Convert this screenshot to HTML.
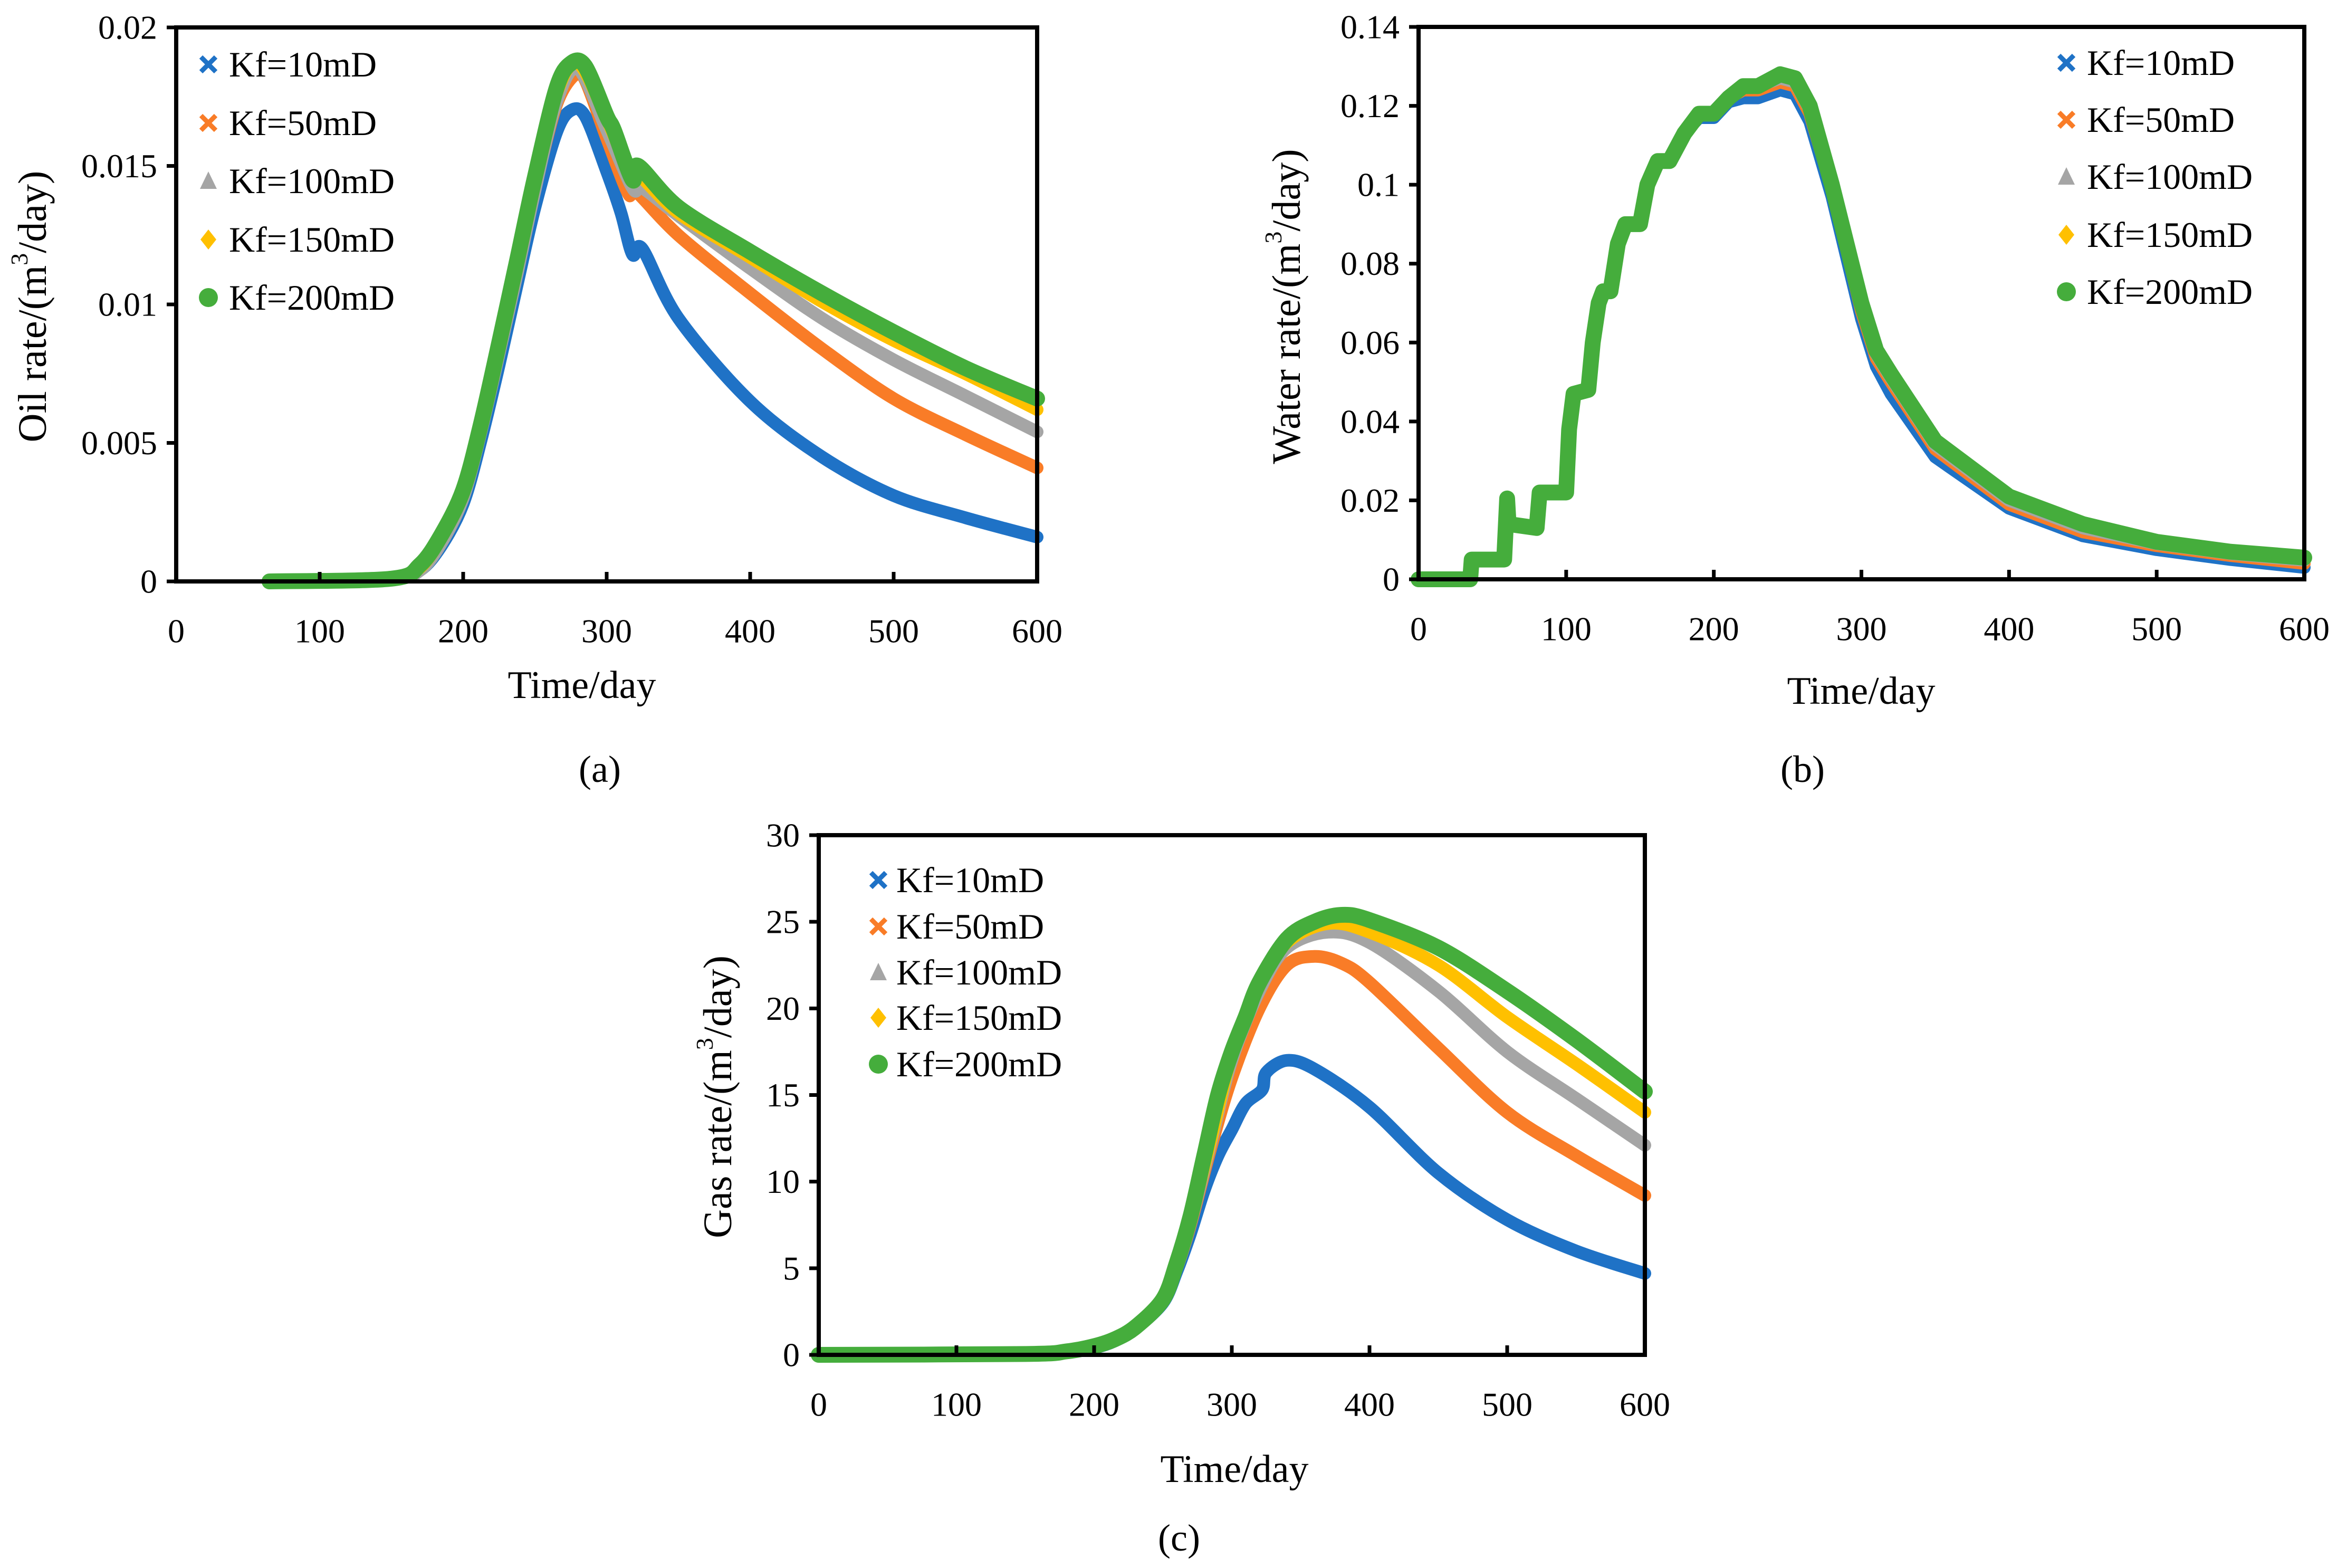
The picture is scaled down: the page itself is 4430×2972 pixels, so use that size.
<!DOCTYPE html>
<html><head><meta charset="utf-8"><style>
html,body{margin:0;padding:0;background:#fff;}
svg{display:block;font-family:"Liberation Serif",serif;}
</style></head><body>
<svg id="fig" width="4430" height="2972" viewBox="0 0 4430 2972" xmlns="http://www.w3.org/2000/svg"></svg>
<script>
// ---- Data ----
const seriesNames = ["Kf=10mD","Kf=50mD","Kf=100mD","Kf=150mD","Kf=200mD"];
const seriesColors = ["#1f72c6","#f97c27","#a5a5a5","#ffc000","#45ad3c"];
const xTicks = [0,100,200,300,400,500,600];

// (a) Oil rate
const oilDays10 = [65,150,170,185,200,212,225,238,250,265,275,285,300,310,318,325,350,400,450,500,550,600];
const oilVals10 = [0,0.0001,0.0004,0.0013,0.0028,0.005,0.0078,0.0108,0.0135,0.0162,0.017,0.0168,0.0148,0.0133,0.0118,0.012,0.0095,0.0065,0.0045,0.0031,0.0023,0.0016];
const oilDays50 = [65,150,170,185,200,212,225,238,250,265,278,285,300,315,320,350,400,450,500,550,600];
const oilVals50 = [0,0.0001,0.0006,0.0017,0.0033,0.0056,0.0085,0.0115,0.0142,0.0172,0.0183,0.0181,0.016,0.014,0.0141,0.0125,0.0104,0.0084,0.0066,0.0053,0.0041];
const oilDays100 = [65,150,170,185,200,212,225,238,250,265,280,300,318,325,350,400,450,500,550,600];
const oilVals100 = [0,0.0001,0.0004,0.0014,0.003,0.0053,0.0082,0.0112,0.0141,0.0173,0.0185,0.0163,0.0142,0.0142,0.0132,0.0113,0.0095,0.008,0.0067,0.0054];
const oilDays150 = [65,150,170,185,200,212,225,238,250,265,280,300,318,322,350,400,450,500,550,600];
const oilVals150 = [0,0.0001,0.0005,0.0016,0.0032,0.0055,0.0084,0.0115,0.0144,0.0176,0.0187,0.0167,0.0145,0.0147,0.0133,0.0117,0.0101,0.0087,0.0075,0.0062];
const oilDays200 = [65,150,170,185,200,212,225,238,250,265,275,285,300,305,318,322,350,400,450,500,550,600];
const oilVals200 = [0,0.0001,0.0006,0.0017,0.0033,0.0056,0.0086,0.0117,0.0146,0.0178,0.0187,0.0186,0.0168,0.0163,0.0145,0.015,0.0135,0.0119,0.0104,0.009,0.0077,0.0066];
const oilYTicks = [0,0.005,0.01,0.015,0.02];
const oilYLabels = ["0","0.005","0.01","0.015","0.02"];

// (b) Water rate
const wDays = [0,35,36,58,60,61,80,82,100,102,105,115,118,122,125,130,135,140,150,155,162,170,180,190,200,210,220,230,245,255,265,280,300,310,320,350,400,450,500,550,600];
const water10  = [0,0,0.005,0.005,0.0205,0.014,0.013,0.022,0.022,0.038,0.047,0.048,0.06,0.07,0.073,0.073,0.085,0.09,0.09,0.1,0.106,0.106,0.113,0.117,0.117,0.121,0.122,0.122,0.124,0.123,0.116,0.097,0.066,0.054,0.047,0.031,0.018,0.011,0.0075,0.005,0.003];
const water50  = [0,0,0.005,0.005,0.0205,0.014,0.013,0.022,0.022,0.038,0.047,0.048,0.06,0.07,0.073,0.073,0.085,0.09,0.09,0.1,0.106,0.106,0.113,0.118,0.118,0.122,0.124,0.124,0.126,0.125,0.118,0.099,0.068,0.056,0.05,0.033,0.019,0.012,0.0085,0.006,0.004];
const water100 = [0,0,0.005,0.005,0.0205,0.014,0.013,0.022,0.022,0.038,0.047,0.048,0.06,0.07,0.073,0.073,0.085,0.09,0.09,0.1,0.106,0.106,0.113,0.118,0.118,0.122,0.125,0.125,0.127,0.126,0.119,0.1,0.069,0.057,0.051,0.034,0.02,0.013,0.009,0.0065,0.0048];
const water150 = [0,0,0.005,0.005,0.0205,0.014,0.013,0.022,0.022,0.038,0.047,0.048,0.06,0.07,0.073,0.073,0.085,0.09,0.09,0.1,0.106,0.106,0.113,0.118,0.118,0.122,0.125,0.125,0.128,0.127,0.12,0.1,0.07,0.058,0.052,0.035,0.021,0.0138,0.0094,0.0068,0.0053];
const water200 = [0,0,0.005,0.005,0.0205,0.014,0.013,0.022,0.022,0.038,0.047,0.048,0.06,0.07,0.073,0.073,0.085,0.09,0.09,0.1,0.106,0.106,0.113,0.118,0.118,0.122,0.125,0.125,0.128,0.127,0.12,0.1,0.07,0.058,0.052,0.035,0.021,0.014,0.0095,0.007,0.0055];
const waterYTicks = [0,0.02,0.04,0.06,0.08,0.1,0.12,0.14];
const waterYLabels = ["0","0.02","0.04","0.06","0.08","0.1","0.12","0.14"];

// (c) Gas rate
const gasDays10 = [0,150,180,200,215,230,250,260,270,280,290,300,310,322,325,340,360,400,450,500,550,600];
const gasVals10 = [0,0,0.15,0.4,0.8,1.5,3,4.8,7,9.5,11.5,13,14.5,15.3,16.3,17,16.5,14.3,10.5,7.8,6,4.7];
const gasDays50 = [0,150,180,200,215,230,250,260,270,285,300,320,340,360,380,400,450,500,550,600];
const gasVals50 = [0,0,0.2,0.5,0.9,1.6,3.1,5,7.5,12,16,20,22.5,23,22.6,21.5,17.7,14,11.5,9.2];
const gasDays100 = [0,150,180,200,215,230,250,260,270,285,300,320,340,370,400,450,500,550,600];
const gasVals100 = [0,0,0.15,0.45,0.85,1.5,3.1,5,7.6,12.3,17,21,23.5,24.4,23.8,21,17.5,14.8,12.1];
const gasDays150 = [0,150,180,200,215,230,250,260,270,285,300,320,340,370,400,450,500,550,600];
const gasVals150 = [0,0,0.2,0.5,0.9,1.6,3.2,5.2,7.8,12.5,17.3,21.3,23.8,24.9,24.4,22.5,19.5,16.8,14];
const gasDays200 = [0,150,180,200,215,230,250,260,270,280,290,300,310,320,340,360,380,400,450,500,550,600];
const gasVals200 = [0,0.05,0.2,0.5,0.9,1.6,3.2,5.3,8,11.5,15,17.5,19.5,21.5,24,25,25.4,25.1,23.5,21,18.2,15.2];
const gasYTicks = [0,5,10,15,20,25,30];
const gasYLabels = ["0","5","10","15","20","25","30"];

// ---- Drawing ----
const NS = "http://www.w3.org/2000/svg";
const svg = document.getElementById('fig');
function mk(tag, attrs, parent){
  const e = document.createElementNS(NS, tag);
  for (const k in attrs) e.setAttribute(k, attrs[k]);
  (parent||svg).appendChild(e);
  return e;
}
function txt(str, x, y, size, anchor, parent, name){
  const t = mk('text', {x:x, y:y, 'font-size':size, 'text-anchor':anchor, fill:'#000', 'dominant-baseline':'central'}, parent);
  t.textContent = str;
  
  
  return t;
}
function marker(shape, cx, cy, color, g){
  if (shape===0 || shape===1){
    mk('path', {d:`M${cx-14},${cy-14}L${cx+14},${cy+14}M${cx+14},${cy-14}L${cx-14},${cy+14}`, stroke:color, 'stroke-width':9, fill:'none'}, g);
  } else if (shape===2){
    mk('polygon', {points:`${cx},${cy-18} ${cx+16},${cy+15} ${cx-16},${cy+15}`, fill:color}, g);
  } else if (shape===3){
    mk('polygon', {points:`${cx},${cy-19} ${cx+15},${cy} ${cx},${cy+19} ${cx-15},${cy}`, fill:color}, g);
  } else {
    mk('circle', {cx:cx, cy:cy, r:18, fill:color}, g);
  }
}
function smoothPath(P){
  let d = `M${P[0][0].toFixed(1)},${P[0][1].toFixed(1)}`;
  for (let i=0;i<P.length-1;i++){
    const p0=P[Math.max(0,i-1)], p1=P[i], p2=P[i+1], p3=P[Math.min(P.length-1,i+2)];
    const t=0.16;
    const c1=[p1[0]+(p2[0]-p0[0])*t, p1[1]+(p2[1]-p0[1])*t];
    const c2=[p2[0]-(p3[0]-p1[0])*t, p2[1]-(p3[1]-p1[1])*t];
    d += `C${c1[0].toFixed(1)},${c1[1].toFixed(1)} ${c2[0].toFixed(1)},${c2[1].toFixed(1)} ${p2[0].toFixed(1)},${p2[1].toFixed(1)}`;
  }
  return d;
}

function chart(cfg){
  const g = mk('g', {});
  
  
  const L=cfg.L,R=cfg.R,T=cfg.T,B=cfg.B;
  const xs = v => L + (v-0)/600*(R-L);
  const ys = v => B - v/cfg.ymax*(B-T);
  cfg.series.forEach((s,i)=>{
    const P = s.x.map((d,j)=>[xs(d), ys(s.y[j])]);
    const d = cfg.smooth ? smoothPath(P) : 'M'+P.map(p=>p[0].toFixed(1)+','+p[1].toFixed(1)).join('L');
    const p = mk('path', {d:d, fill:'none', stroke:seriesColors[i], 'stroke-width': i===4?30:24, 'stroke-linejoin':'round', 'stroke-linecap':'round'}, g);
    
    
  });
  const f = mk('rect', {x:L, y:T, width:R-L, height:B-T, fill:'none', stroke:'#000', 'stroke-width':8}, g);
  
  
  cfg.yTicks.forEach((v,i)=>{
    mk('line', {x1:L-18, x2:L, y1:ys(v), y2:ys(v), stroke:'#000', 'stroke-width':7}, g);
    txt(cfg.yLabels[i], L-36, ys(v), 64, 'end', g, 'y-tick-label');
  });
  xTicks.forEach(v=>{
    mk('line', {x1:xs(v), x2:xs(v), y1:B, y2:B-18, stroke:'#000', 'stroke-width':7}, g);
    txt(String(v), xs(v), B+94, 64, 'middle', g, 'x-tick-label');
  });
  txt('Time/day', cfg.xtX, cfg.xtY, 74, 'middle', g, 'x-axis-title');
  const yt = mk('text', {x:0, y:0, 'font-size':76, 'text-anchor':'middle', 'dominant-baseline':'central', transform:`translate(${cfg.ytX},${cfg.ytY}) rotate(-90)`}, g);
  
  
  yt.innerHTML = cfg.ytitle + '/(m<tspan baseline-shift="super" font-size="46">3</tspan>/day)';
  txt(cfg.label, cfg.lbX, cfg.lbY, 72, 'middle', g, 'panel-label');
  const lg = mk('g', {}, g);
  
  
  seriesNames.forEach((n,i)=>{
    const e = mk('g', {}, lg);
    
    
    marker(i, cfg.legMX, cfg.legY[i], seriesColors[i], e);
    txt(n, cfg.legTX, cfg.legY[i], 68, 'start', e, 'legend-label');
  });
}

chart({name:'oil-rate-chart', L:334, R:1966, T:52, B:1102, ymax:0.02, smooth:true,
  yTicks:oilYTicks, yLabels:oilYLabels, ytitle:'Oil rate',
  series:[{x:oilDays10,y:oilVals10},{x:oilDays50,y:oilVals50},{x:oilDays100,y:oilVals100},{x:oilDays150,y:oilVals150},{x:oilDays200,y:oilVals200}],
  xtX:1103, xtY:1299, ytX:62, ytY:581, label:'(a)', lbX:1137, lbY:1458,
  legMX:395, legTX:434, legY:[122,233,343,454,564]});

chart({name:'water-rate-chart', L:2689, R:4368, T:51, B:1098, ymax:0.14, smooth:false,
  yTicks:waterYTicks, yLabels:waterYLabels, ytitle:'Water rate',
  series:[{x:wDays,y:water10},{x:wDays,y:water50},{x:wDays,y:water100},{x:wDays,y:water150},{x:wDays,y:water200}],
  xtX:3528, xtY:1310, ytX:2439, ytY:581, label:'(b)', lbX:3417, lbY:1458,
  legMX:3917, legTX:3956, legY:[119,227,335,445,553]});

chart({name:'gas-rate-chart', L:1552, R:3118, T:1583, B:2568, ymax:30, smooth:true,
  yTicks:gasYTicks, yLabels:gasYLabels, ytitle:'Gas rate',
  series:[{x:gasDays10,y:gasVals10},{x:gasDays50,y:gasVals50},{x:gasDays100,y:gasVals100},{x:gasDays150,y:gasVals150},{x:gasDays200,y:gasVals200}],
  xtX:2340, xtY:2785, ytX:1361, ytY:2079, label:'(c)', lbX:2235, lbY:2915,
  legMX:1665, legTX:1699, legY:[1668,1756,1843,1929,2017]});
</script>
</body></html>
